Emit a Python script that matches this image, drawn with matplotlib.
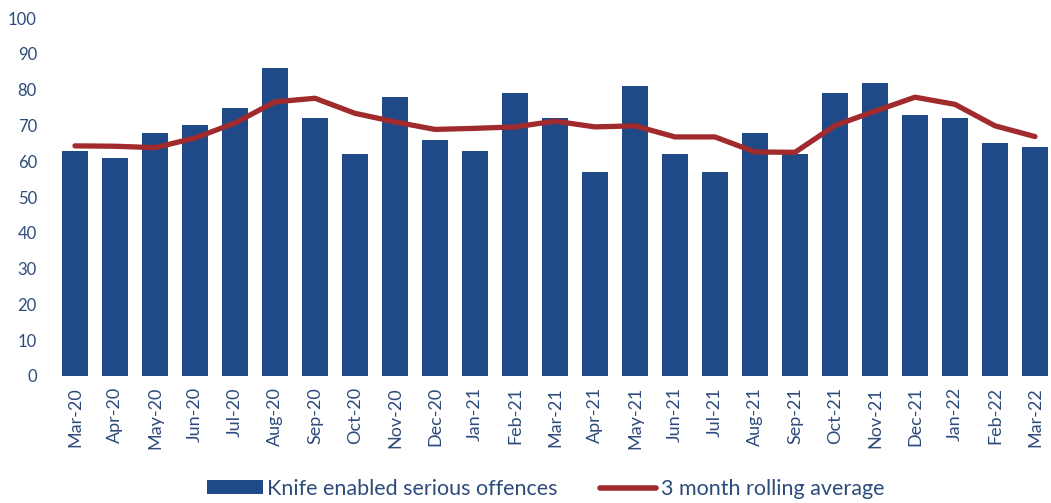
import matplotlib
matplotlib.use("Agg")
import matplotlib.pyplot as plt
from matplotlib.patches import Patch
from matplotlib.lines import Line2D

months = ["Mar-20", "Apr-20", "May-20", "Jun-20", "Jul-20", "Aug-20", "Sep-20",
          "Oct-20", "Nov-20", "Dec-20", "Jan-21", "Feb-21", "Mar-21", "Apr-21",
          "May-21", "Jun-21", "Jul-21", "Aug-21", "Sep-21", "Oct-21", "Nov-21",
          "Dec-21", "Jan-22", "Feb-22", "Mar-22"]
offences = [63, 61, 68, 70, 75, 86, 72, 62, 78, 66, 63, 79, 72, 57, 81, 62, 57,
            68, 62, 79, 82, 73, 72, 65, 64]
rolling = [64.3, 64.2, 63.8, 66.5, 70.7, 76.6, 77.6, 73.4, 71.0, 68.9, 69.2, 69.6,
           71.2, 69.6, 69.9, 66.8, 66.8, 62.6, 62.5, 70.0, 74.0, 77.9, 75.9, 69.9, 66.9]
yticks = [0, 10, 20, 30, 40, 50, 60, 70, 80, 90, 100]

bar_color = "#1f4a87"
line_color = "#a02a2c"
text_color = "#2d4b7b"
plt.rcParams['font.family'] = ['Lato', 'DejaVu Sans']

fig = plt.figure(figsize=(10.51, 5.03), dpi=100)
ax = fig.add_axes([0.0523, 0.2525, 0.9477, 0.7115])
x = list(range(len(months)))
ax.bar(x, offences, width=0.65, color=bar_color, zorder=2)
ax.plot(x, rolling, color=line_color, linewidth=3.8, solid_capstyle='round', zorder=3)

ax.set_xlim(-0.5, 24.4)
ax.set_ylim(0, 100)
ax.set_yticks(yticks)
ax.set_xticks(x)
ax.set_xticklabels(months, rotation=90, fontsize=13)
ax.tick_params(axis='both', length=0, colors=text_color)
ax.tick_params(axis='y', pad=13, labelsize=12)
ax.tick_params(axis='x', pad=8)
for s in ax.spines.values():
    s.set_visible(False)

handles = [Patch(facecolor=bar_color, edgecolor='none'),
           Line2D([0], [0], color=line_color, linewidth=4, solid_capstyle='round')]
labels = ["Knife enabled serious offences", "3 month rolling average"]
leg = fig.legend(handles, labels, loc='lower center', bbox_to_anchor=(0.519, -0.03),
                 ncol=2, frameon=False, fontsize=15.5, handlelength=2.6,
                 handleheight=0.6, handletextpad=0.2, columnspacing=2.0,
                 labelcolor=text_color)

fig.savefig("out.png", dpi=100)
